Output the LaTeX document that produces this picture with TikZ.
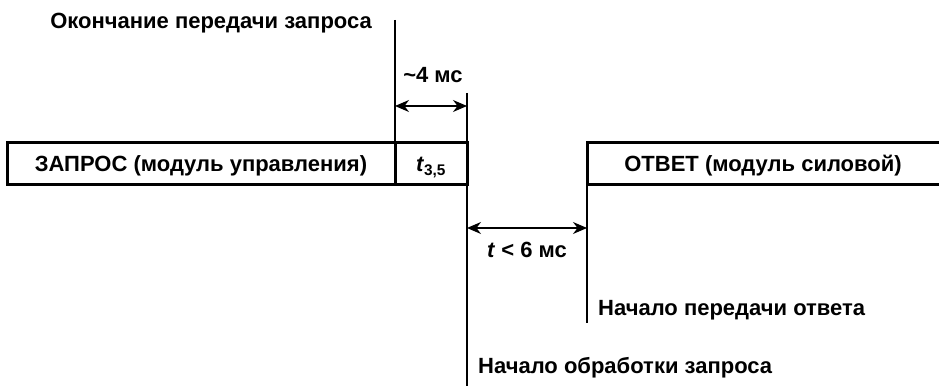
\documentclass[tikz,border=0pt]{standalone}
\usepackage{fontspec}
\setmainfont{Liberation Sans}
\usetikzlibrary{arrows.meta}

\tikzset{
  frame/.style={draw, line width=3pt, inner sep=0pt, outer sep=0pt, minimum height=42pt},
  tick/.style={line width=2pt},
  span/.style={line width=1.4pt, {Stealth[length=14pt,width=12pt]}-{Stealth[length=14pt,width=12pt]}},
  lbl/.style={font=\fontsize{22}{26}\selectfont\bfseries, inner sep=0pt}
}

\begin{document}
\begin{tikzpicture}[x=1pt, y=-1pt]
\useasboundingbox (0,0) rectangle (939,387);
% frames
\node[frame, minimum width=388pt, anchor=north west] (req) at (7,143) {};
\node[lbl, anchor=base] at ([yshift=-8pt]req.center) {ЗАПРОС (модуль управления)};
\node[frame, minimum width=72pt, anchor=north west] (gap) at (req.north east) {};
\node[lbl, anchor=base] at ([yshift=-8pt]gap.center) {\textit{t}\textsubscript{3,5}};
\coordinate (resptop) at (939,143);
\coordinate (respbot) at (939,185);
\draw[line width=3pt] (resptop) -| (587,185) coordinate (respsw) -- (respbot);
\node[lbl, anchor=base] at (763,172) {ОТВЕТ (модуль силовой)};
% time marks
\coordinate (reqend) at (395,20);
\coordinate (procbeg) at (467,93);
\coordinate (procfoot) at (467,386);
\coordinate (respfoot) at (587,323);
\draw[tick] (reqend) -- (req.south east);
\draw[tick] (procbeg) -- (procfoot);
\draw[tick] (respsw) -- (respfoot);
% spans
\coordinate (sil) at (395,106);
\coordinate (sir) at (467,106);
\draw[span] (sil) -- (sir);
\node[lbl, anchor=base] (silence) at (433,83) {\textasciitilde 4 мс};
\coordinate (wl) at (467,228);
\coordinate (wr) at (587,228);
\draw[span] (wl) -- (wr);
\node[lbl, anchor=base] (wait) at (527,258) {\textit{t} < 6 мс};
% captions
\node[lbl, anchor=base east] (capreq) at (372,29) {Окончание передачи запроса};
\node[lbl, anchor=base west] (capresp) at (598,315) {Начало передачи ответа};
\node[lbl, anchor=base west] (capproc) at (478,373) {Начало обработки запроса};
\end{tikzpicture}
\end{document}
